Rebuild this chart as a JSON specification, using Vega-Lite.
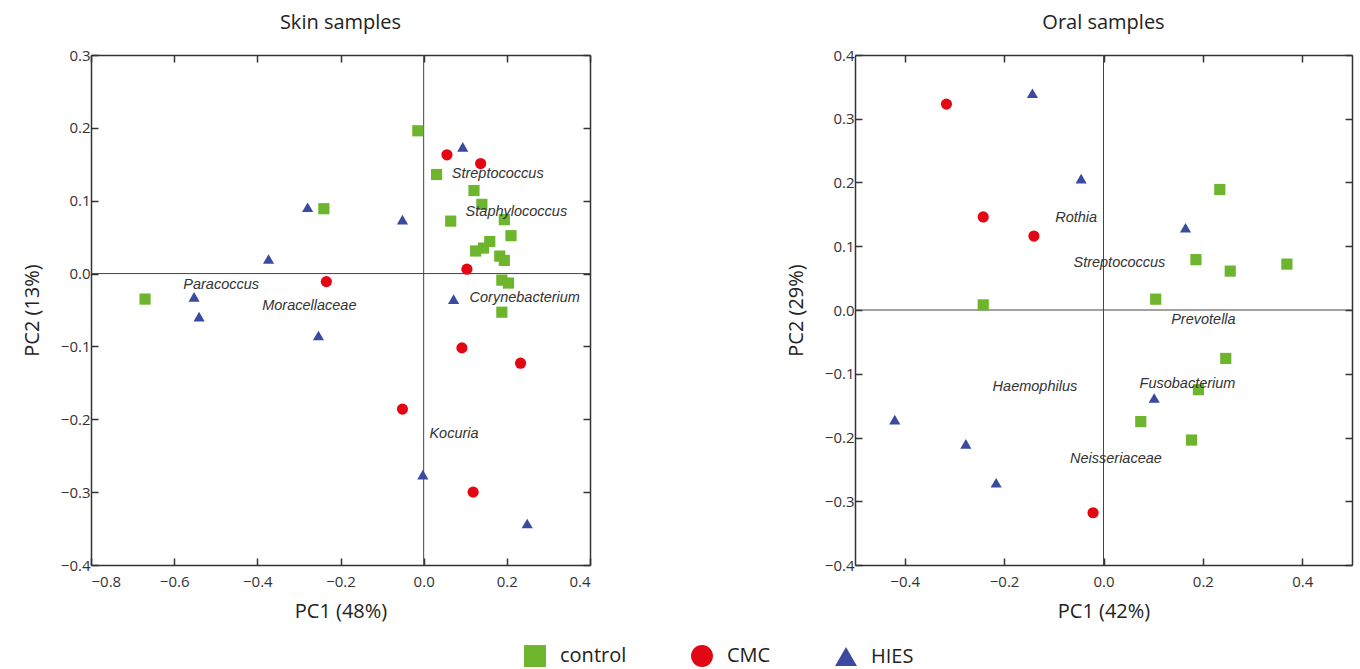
{
  "$schema": "https://vega.github.io/schema/vega-lite/v6.json",
  "padding": {"left": 22, "top": 13, "right": 5, "bottom": 0},
  "background": "white",
  "datasets": {
    "skin": [
      {"group": "control", "pc1": -0.240, "pc2": 0.089},
      {"group": "control", "pc1": -0.670, "pc2": -0.035},
      {"group": "control", "pc1": -0.014, "pc2": 0.196},
      {"group": "control", "pc1": 0.031, "pc2": 0.136},
      {"group": "control", "pc1": 0.121, "pc2": 0.114},
      {"group": "control", "pc1": 0.140, "pc2": 0.095},
      {"group": "control", "pc1": 0.065, "pc2": 0.072},
      {"group": "control", "pc1": 0.194, "pc2": 0.074},
      {"group": "control", "pc1": 0.210, "pc2": 0.052},
      {"group": "control", "pc1": 0.159, "pc2": 0.044},
      {"group": "control", "pc1": 0.144, "pc2": 0.035},
      {"group": "control", "pc1": 0.125, "pc2": 0.031},
      {"group": "control", "pc1": 0.183, "pc2": 0.024},
      {"group": "control", "pc1": 0.194, "pc2": 0.018},
      {"group": "control", "pc1": 0.188, "pc2": -0.009},
      {"group": "control", "pc1": 0.204, "pc2": -0.013},
      {"group": "control", "pc1": 0.188, "pc2": -0.053},
      {"group": "CMC", "pc1": -0.234, "pc2": -0.011},
      {"group": "CMC", "pc1": 0.056, "pc2": 0.163},
      {"group": "CMC", "pc1": 0.137, "pc2": 0.151},
      {"group": "CMC", "pc1": 0.104, "pc2": 0.006},
      {"group": "CMC", "pc1": 0.092, "pc2": -0.102},
      {"group": "CMC", "pc1": 0.233, "pc2": -0.123},
      {"group": "CMC", "pc1": -0.051, "pc2": -0.186},
      {"group": "CMC", "pc1": 0.119, "pc2": -0.300},
      {"group": "HIES", "pc1": -0.279, "pc2": 0.091},
      {"group": "HIES", "pc1": -0.373, "pc2": 0.020},
      {"group": "HIES", "pc1": -0.552, "pc2": -0.032},
      {"group": "HIES", "pc1": -0.540, "pc2": -0.059},
      {"group": "HIES", "pc1": -0.253, "pc2": -0.085},
      {"group": "HIES", "pc1": 0.094, "pc2": 0.174},
      {"group": "HIES", "pc1": -0.051, "pc2": 0.074},
      {"group": "HIES", "pc1": 0.072, "pc2": -0.035},
      {"group": "HIES", "pc1": -0.002, "pc2": -0.276},
      {"group": "HIES", "pc1": 0.249, "pc2": -0.343}
    ],
    "oral": [
      {"group": "control", "pc1": -0.242, "pc2": 0.008},
      {"group": "control", "pc1": 0.234, "pc2": 0.189},
      {"group": "control", "pc1": 0.186, "pc2": 0.079},
      {"group": "control", "pc1": 0.255, "pc2": 0.061},
      {"group": "control", "pc1": 0.369, "pc2": 0.072},
      {"group": "control", "pc1": 0.105, "pc2": 0.017},
      {"group": "control", "pc1": 0.246, "pc2": -0.076},
      {"group": "control", "pc1": 0.191, "pc2": -0.125},
      {"group": "control", "pc1": 0.075, "pc2": -0.175},
      {"group": "control", "pc1": 0.177, "pc2": -0.204},
      {"group": "CMC", "pc1": -0.316, "pc2": 0.323},
      {"group": "CMC", "pc1": -0.242, "pc2": 0.146},
      {"group": "CMC", "pc1": -0.140, "pc2": 0.116},
      {"group": "CMC", "pc1": -0.021, "pc2": -0.318},
      {"group": "HIES", "pc1": -0.143, "pc2": 0.340},
      {"group": "HIES", "pc1": -0.045, "pc2": 0.206},
      {"group": "HIES", "pc1": -0.420, "pc2": -0.172},
      {"group": "HIES", "pc1": -0.277, "pc2": -0.210},
      {"group": "HIES", "pc1": -0.216, "pc2": -0.271},
      {"group": "HIES", "pc1": 0.165, "pc2": 0.129},
      {"group": "HIES", "pc1": 0.102, "pc2": -0.138}
    ],
    "skinLabels": [
      {"taxon": "Streptococcus", "pc1": 0.178, "pc2": 0.137},
      {"taxon": "Staphylococcus", "pc1": 0.223, "pc2": 0.084},
      {"taxon": "Corynebacterium", "pc1": 0.243, "pc2": -0.034},
      {"taxon": "Kocuria", "pc1": 0.073, "pc2": -0.220},
      {"taxon": "Paracoccus", "pc1": -0.487, "pc2": -0.016},
      {"taxon": "Moracellaceae", "pc1": -0.275, "pc2": -0.044}
    ],
    "oralLabels": [
      {"taxon": "Rothia", "pc1": -0.055, "pc2": 0.144},
      {"taxon": "Streptococcus", "pc1": 0.032, "pc2": 0.074},
      {"taxon": "Haemophilus", "pc1": -0.138, "pc2": -0.121},
      {"taxon": "Neisseriaceae", "pc1": 0.025, "pc2": -0.234},
      {"taxon": "Prevotella", "pc1": 0.201, "pc2": -0.015},
      {"taxon": "Fusobacterium", "pc1": 0.169, "pc2": -0.116}
    ],
    "zero": [{"v": 0}]
  },
  "hconcat": [
    {
      "width": 499,
      "height": 510,
      "title": "Skin samples",
      "layer": [
        {
          "data": {"name": "zero"},
          "mark": {"type": "rule", "color": "#444", "strokeWidth": 1},
          "encoding": {
            "x": {"field": "v", "type": "quantitative", "scale": {"domain": [-0.8, 0.4], "nice": false, "zero": false},
              "axis": {"orient": "top", "labels": false, "title": null, "values": [-0.8, -0.6, -0.4, -0.2, 0, 0.2, 0.4]}}
          }
        },
        {
          "data": {"name": "zero"},
          "mark": {"type": "rule", "color": "#444", "strokeWidth": 1},
          "encoding": {
            "y": {"field": "v", "type": "quantitative", "scale": {"domain": [-0.4, 0.3], "nice": false, "zero": false},
              "axis": {"orient": "right", "labels": false, "title": null, "values": [-0.4, -0.3, -0.2, -0.1, 0, 0.1, 0.2, 0.3]}}
          }
        },
        {
          "data": {"name": "skin"},
          "mark": {"type": "point", "filled": true, "opacity": 1, "size": 125},
          "encoding": {
            "x": {"field": "pc1", "type": "quantitative", "scale": {"domain": [-0.8, 0.4], "nice": false, "zero": false},
              "axis": {"orient": "bottom", "title": "PC1 (48%)", "format": ".1f", "labelPadding": 16, "titlePadding": 12, "values": [-0.8, -0.6, -0.4, -0.2, 0, 0.2, 0.4]}},
            "y": {"field": "pc2", "type": "quantitative", "scale": {"domain": [-0.4, 0.3], "nice": false, "zero": false},
              "axis": {"orient": "left", "title": "PC2 (13%)", "format": ".1f", "labelPadding": 8, "titlePadding": 18, "values": [-0.4, -0.3, -0.2, -0.1, 0, 0.1, 0.2, 0.3]}},
            "color": {"field": "group", "type": "nominal",
              "scale": {"domain": ["control", "CMC", "HIES"], "range": ["#6cb52d", "#e30613", "#3a4b9f"]},
              "legend": {"orient": "none", "legendX": 433, "legendY": 590, "direction": "horizontal", "title": null}},
            "shape": {"field": "group", "type": "nominal",
              "scale": {"domain": ["control", "CMC", "HIES"], "range": ["square", "circle", "M-1,0.866L1,0.866L0,-0.866Z"]},
              "legend": {"orient": "none", "legendX": 433, "legendY": 590, "direction": "horizontal", "title": null}}
          }
        },
        {
          "data": {"name": "skinLabels"},
          "mark": {"type": "text", "fontStyle": "italic", "font": "Liberation Sans", "fontSize": 14.5, "color": "#333", "align": "center", "baseline": "middle"},
          "encoding": {
            "x": {"field": "pc1", "type": "quantitative", "scale": {"domain": [-0.8, 0.4], "nice": false, "zero": false}, "axis": null},
            "y": {"field": "pc2", "type": "quantitative", "scale": {"domain": [-0.4, 0.3], "nice": false, "zero": false}, "axis": null},
            "text": {"field": "taxon", "type": "nominal"}
          }
        }
      ],
      "resolve": {"axis": {"x": "independent", "y": "independent"}}
    },
    {
      "width": 497,
      "height": 510,
      "title": "Oral samples",
      "layer": [
        {
          "data": {"name": "zero"},
          "mark": {"type": "rule", "color": "#444", "strokeWidth": 1},
          "encoding": {
            "x": {"field": "v", "type": "quantitative", "scale": {"domain": [-0.5, 0.5], "nice": false, "zero": false},
              "axis": {"orient": "top", "labels": false, "title": null, "values": [-0.4, -0.2, 0, 0.2, 0.4]}}
          }
        },
        {
          "data": {"name": "zero"},
          "mark": {"type": "rule", "color": "#444", "strokeWidth": 1},
          "encoding": {
            "y": {"field": "v", "type": "quantitative", "scale": {"domain": [-0.4, 0.4], "nice": false, "zero": false},
              "axis": {"orient": "right", "labels": false, "title": null, "values": [-0.4, -0.3, -0.2, -0.1, 0, 0.1, 0.2, 0.3, 0.4]}}
          }
        },
        {
          "data": {"name": "oral"},
          "mark": {"type": "point", "filled": true, "opacity": 1, "size": 125},
          "encoding": {
            "x": {"field": "pc1", "type": "quantitative", "scale": {"domain": [-0.5, 0.5], "nice": false, "zero": false},
              "axis": {"orient": "bottom", "title": "PC1 (42%)", "format": ".1f", "labelPadding": 16, "titlePadding": 12, "values": [-0.4, -0.2, 0, 0.2, 0.4]}},
            "y": {"field": "pc2", "type": "quantitative", "scale": {"domain": [-0.4, 0.4], "nice": false, "zero": false},
              "axis": {"orient": "left", "title": "PC2 (29%)", "format": ".1f", "labelPadding": 8, "titlePadding": 18, "values": [-0.4, -0.3, -0.2, -0.1, 0, 0.1, 0.2, 0.3, 0.4]}},
            "color": {"field": "group", "type": "nominal",
              "scale": {"domain": ["control", "CMC", "HIES"], "range": ["#6cb52d", "#e30613", "#3a4b9f"]},
              "legend": {"orient": "none", "legendX": 433, "legendY": 590, "direction": "horizontal", "title": null}},
            "shape": {"field": "group", "type": "nominal",
              "scale": {"domain": ["control", "CMC", "HIES"], "range": ["square", "circle", "M-1,0.866L1,0.866L0,-0.866Z"]},
              "legend": {"orient": "none", "legendX": 433, "legendY": 590, "direction": "horizontal", "title": null}}
          }
        },
        {
          "data": {"name": "oralLabels"},
          "mark": {"type": "text", "fontStyle": "italic", "font": "Liberation Sans", "fontSize": 14.5, "color": "#333", "align": "center", "baseline": "middle"},
          "encoding": {
            "x": {"field": "pc1", "type": "quantitative", "scale": {"domain": [-0.5, 0.5], "nice": false, "zero": false}, "axis": null},
            "y": {"field": "pc2", "type": "quantitative", "scale": {"domain": [-0.4, 0.4], "nice": false, "zero": false}, "axis": null},
            "text": {"field": "taxon", "type": "nominal"}
          }
        }
      ],
      "resolve": {"axis": {"x": "independent", "y": "independent"}}
    }
  ],
  "spacing": 195,
  "config": {
    "view": {"stroke": null},
    "font": "Open Sans",
    "axis": {
      "grid": false,
      "domainColor": "#333",
      "domainWidth": 1.5,
      "tickColor": "#333",
      "tickWidth": 1.5,
      "tickSize": -7,
      "labelFont": "Open Sans",
      "labelFontSize": 15,
      "labelColor": "#333",
      "labelPadding": 8,
      "titleFont": "Open Sans",
      "titleFontSize": 20,
      "titleFontWeight": "normal",
      "titleColor": "#222",
      "titlePadding": 12
    },
    "title": {"font": "Open Sans", "fontSize": 20, "fontWeight": "normal", "color": "#222", "offset": 15},
    "legend": {
      "symbolSize": 480,
      "symbolStrokeWidth": 0,
      "labelFont": "Open Sans",
      "labelFontSize": 20,
      "labelColor": "#222",
      "labelOffset": 14,
      "columnPadding": 64,
      "symbolOpacity": 1
    }
  }
}
